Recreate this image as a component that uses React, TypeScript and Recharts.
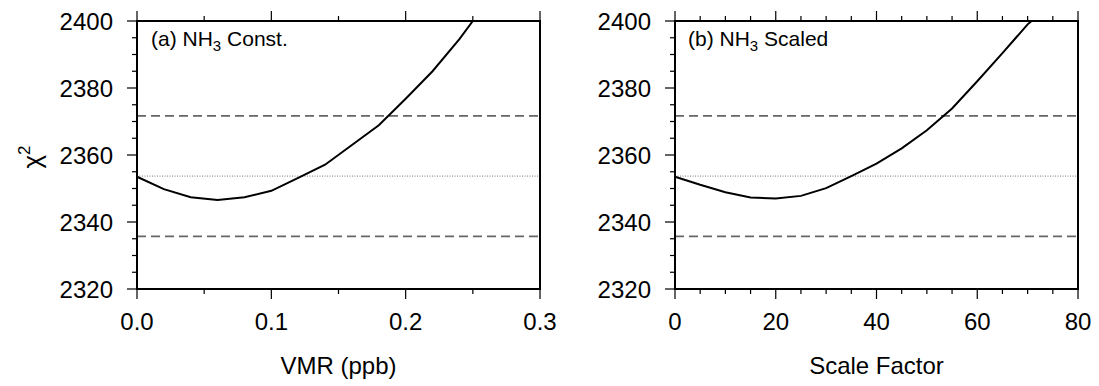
import React from 'react';
import { LineChart, Line, XAxis, YAxis, ReferenceLine, Customized } from 'recharts';

// panel (a): constant NH3 profile, chi2 vs VMR
const vmrValues = [0, 0.02, 0.04, 0.06, 0.08, 0.1, 0.12, 0.14, 0.16, 0.18, 0.2, 0.22, 0.24, 0.25];
const vmrChi2 = [2353.5, 2349.8, 2347.4, 2346.6, 2347.4, 2349.3, 2353.2, 2357.1, 2363.0, 2368.9, 2376.8, 2385.0, 2394.6, 2400];

// panel (b): scaled NH3 profile, chi2 vs scale factor
const scaleValues = [0, 5, 10, 15, 20, 25, 30, 35, 40, 45, 50, 55, 60, 65, 70, 70.8];
const scaleChi2 = [2353.5, 2351.1, 2348.9, 2347.3, 2347.0, 2347.8, 2350.1, 2353.7, 2357.4, 2362.0, 2367.4, 2373.9, 2382.0, 2390.4, 2399.0, 2400];

// reference levels
const chi2Start = 2353.7;
const chi2Lower = 2335.7;
const chi2Upper = 2371.7;

// ticks
const vmrTicks = [0, 0.05, 0.1, 0.15, 0.2, 0.25, 0.3];
const vmrMajor = [0, 0.1, 0.2, 0.3];
const scaleTicks = [0, 5, 10, 15, 20, 25, 30, 35, 40, 45, 50, 55, 60, 65, 70, 75, 80];
const scaleMajor = [0, 20, 40, 60, 80];
const chi2Ticks = [2320, 2325, 2330, 2335, 2340, 2345, 2350, 2355, 2360, 2365, 2370, 2375, 2380, 2385, 2390, 2395, 2400];
const chi2Major = [2320, 2340, 2360, 2380, 2400];

const FONT = '"Liberation Sans", Arial, Helvetica, sans-serif';
const HEIGHT = 386;
const Y_MIN = 2320;
const Y_MAX = 2400;
const frame = { stroke: '#000', strokeWidth: 2 };

const isIn = (list: number[], v: number) => list.some((m) => Math.abs(m - v) < 1e-9);

type Side = 'top' | 'bottom' | 'left' | 'right';

// tick marks drawn as thin rects (plus the label on bottom/left majors)
const makeTick = (side: Side, major: number[], fmt?: (v: number) => string) => (props: any) => {
  const { x, y, payload } = props;
  const v = payload.value as number;
  const big = isIn(major, v);
  const len = big ? 10 : 5;
  const w = 1.2;
  let mark;
  if (side === 'bottom') mark = <rect x={x - w / 2} y={y} width={w} height={len} fill="#000" />;
  else if (side === 'top') mark = <rect x={x - w / 2} y={y - len} width={w} height={len} fill="#000" />;
  else if (side === 'left') mark = <rect x={x - len} y={y - w / 2} width={len} height={w} fill="#000" />;
  else mark = <rect x={x} y={y - w / 2} width={len} height={w} fill="#000" />;
  return (
    <g>
      {mark}
      {big && fmt && side === 'bottom' && (
        <text x={x} y={y + 41} textAnchor="middle" fontSize={24} fontFamily={FONT} fill="#000">
          {fmt(v)}
        </text>
      )}
      {big && fmt && side === 'left' && (
        <text x={x - 24} y={y + 8.5} textAnchor="end" fontSize={24} fontFamily={FONT} fill="#000">
          {fmt(v)}
        </text>
      )}
    </g>
  );
};

const PanelTitle = ({ x, label, rest }: { x: number; label: string; rest: string }) => (
  <text x={x} y={46} fontSize={21} fontFamily={FONT} fill="#000">
    {label} NH
    <tspan fontSize={15} dy={5}>3</tspan>
    <tspan dy={-5}> {rest}</tspan>
  </text>
);

interface PanelProps {
  xs: number[];
  ys: number[];
  xDomain: [number, number];
  xTicks: number[];
  xMajor: number[];
  xFmt: (v: number) => string;
  xLabel: string;
  left: number;
  width: number;
  yAxisWidth: number;
  rightAxisWidth: number;
  title: React.ReactNode;
  showChi: boolean;
}

const Panel = ({ xs, ys, xDomain, xTicks, xMajor, xFmt, xLabel, left, width, yAxisWidth, rightAxisWidth, title, showChi }: PanelProps) => {
  const data = xs.map((x, i) => ({ x, chi2: ys[i] }));
  const yDomain: [number, number] = [Y_MIN, Y_MAX];
  return (
    <div style={{ position: 'absolute', left, top: 0 }}>
      <LineChart width={width} height={HEIGHT} data={data} margin={{ top: 0, right: 0, bottom: 0, left: 0 }}>
        <XAxis xAxisId="b" dataKey="x" type="number" domain={xDomain} ticks={xTicks} interval={0} height={97}
          tickSize={0} tickMargin={0} tickLine={false} axisLine={frame} tick={makeTick('bottom', xMajor, xFmt)}
          label={{ value: xLabel, position: 'insideTop', offset: 68, fontSize: 24, fontFamily: FONT, fill: '#000' }} />
        <XAxis xAxisId="t" orientation="top" dataKey="x" type="number" domain={xDomain} ticks={xTicks} interval={0}
          height={21} tickSize={0} tickMargin={0} tickLine={false} axisLine={frame} tick={makeTick('top', xMajor)} />
        <YAxis yAxisId="l" type="number" domain={yDomain} allowDataOverflow ticks={chi2Ticks} interval={0}
          width={yAxisWidth} tickSize={0} tickMargin={0} tickLine={false} axisLine={frame}
          tick={makeTick('left', chi2Major, (v) => String(v))} />
        <YAxis yAxisId="r" orientation="right" type="number" domain={yDomain} ticks={chi2Ticks} interval={0}
          width={rightAxisWidth} tickSize={0} tickMargin={0} tickLine={false} axisLine={frame} tick={makeTick('right', chi2Major)} />
        {/* box around the plot */}
        <ReferenceLine xAxisId="b" yAxisId="l" y={Y_MAX} stroke="#000" strokeWidth={2} strokeLinecap="square" />
        <ReferenceLine xAxisId="b" yAxisId="l" y={Y_MIN} stroke="#000" strokeWidth={2} strokeLinecap="square" />
        <ReferenceLine xAxisId="b" yAxisId="l" x={xDomain[0]} stroke="#000" strokeWidth={2} strokeLinecap="square" />
        <ReferenceLine xAxisId="b" yAxisId="l" x={xDomain[1]} stroke="#000" strokeWidth={2} strokeLinecap="square" />
        <ReferenceLine xAxisId="b" yAxisId="l" y={chi2Start} stroke="#777" strokeWidth={1} strokeDasharray="1 1.5" />
        <ReferenceLine xAxisId="b" yAxisId="l" y={chi2Upper} stroke="#666" strokeWidth={1.8} strokeDasharray="9 5" />
        <ReferenceLine xAxisId="b" yAxisId="l" y={chi2Lower} stroke="#666" strokeWidth={1.8} strokeDasharray="9 5" />
        <Line xAxisId="b" yAxisId="l" type="linear" dataKey="chi2" stroke="#000" strokeWidth={2}
          dot={false} isAnimationActive={false} />
        <Customized
          component={() => (
            <g>
              {title}
              {showChi && (
                <text transform="rotate(-90 41 157)" x={41} y={157} textAnchor="middle" fontSize={26} fontFamily={FONT} fill="#000">
                  χ<tspan fontSize={17} dy={-11}>2</tspan>
                </text>
              )}
            </g>
          )}
        />
      </LineChart>
    </div>
  );
};

export default function App() {
  return (
    <div style={{ position: 'absolute', left: 0, top: 0, width: 1099, height: HEIGHT, background: '#fff' }}>
      <Panel
        xs={vmrValues}
        ys={vmrChi2}
        xDomain={[0, 0.3]}
        xTicks={vmrTicks}
        xMajor={vmrMajor}
        xFmt={(v) => v.toFixed(1)}
        xLabel="VMR (ppb)"
        left={0}
        width={560}
        yAxisWidth={137}
        rightAxisWidth={20}
        title={<PanelTitle x={151} label="(a)" rest="Const." />}
        showChi
      />
      <Panel
        xs={scaleValues}
        ys={scaleChi2}
        xDomain={[0, 80]}
        xTicks={scaleTicks}
        xMajor={scaleMajor}
        xFmt={(v) => String(v)}
        xLabel="Scale Factor"
        left={560}
        width={539}
        yAxisWidth={115}
        rightAxisWidth={21}
        title={<PanelTitle x={128} label="(b)" rest="Scaled" />}
        showChi={false}
      />
    </div>
  );
}
